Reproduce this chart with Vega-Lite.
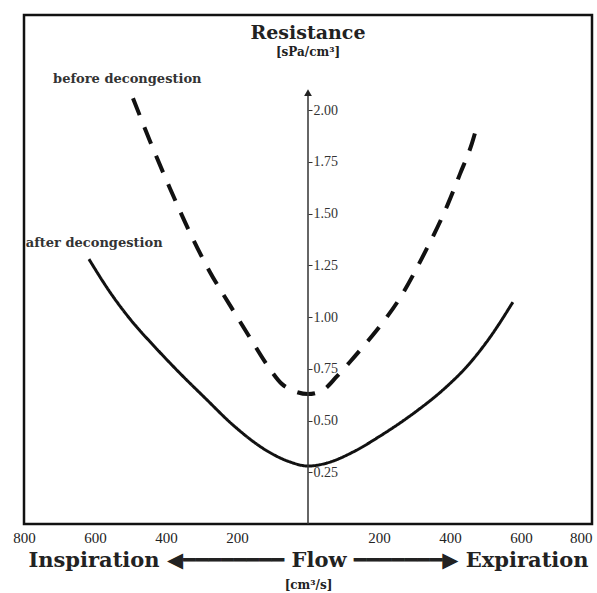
{
  "$schema": "https://vega.github.io/schema/vega-lite/v6.json",
  "width": 568,
  "height": 509,
  "autosize": {"type": "none"},
  "padding": {"left": 24, "top": 15, "right": 5, "bottom": 69},
  "background": "white",
  "view": {"stroke": "#111", "strokeWidth": 2.5},
  "title": {
    "text": "Resistance",
    "subtitle": "[sPa/cm³]",
    "anchor": "middle",
    "orient": "top",
    "offset": -43,
    "font": "DejaVu Serif",
    "fontSize": 19,
    "fontWeight": "bold",
    "color": "#222",
    "subtitleFont": "DejaVu Serif",
    "subtitleFontSize": 12,
    "subtitleFontWeight": "bold",
    "subtitleColor": "#222",
    "subtitlePadding": 4
  },
  "datasets": {
    "curves": [
      {"series": "before decongestion", "flow": -493, "res": 2.058},
      {"series": "before decongestion", "flow": -445, "res": 1.85},
      {"series": "before decongestion", "flow": -389, "res": 1.623},
      {"series": "before decongestion", "flow": -332, "res": 1.406},
      {"series": "before decongestion", "flow": -276, "res": 1.217},
      {"series": "before decongestion", "flow": -220, "res": 1.058},
      {"series": "before decongestion", "flow": -163, "res": 0.899},
      {"series": "before decongestion", "flow": -113, "res": 0.763},
      {"series": "before decongestion", "flow": -73, "res": 0.676},
      {"series": "before decongestion", "flow": -45, "res": 0.647},
      {"series": "before decongestion", "flow": 0, "res": 0.628},
      {"series": "before decongestion", "flow": 42, "res": 0.647},
      {"series": "before decongestion", "flow": 82, "res": 0.715},
      {"series": "before decongestion", "flow": 118, "res": 0.783},
      {"series": "before decongestion", "flow": 166, "res": 0.879},
      {"series": "before decongestion", "flow": 203, "res": 0.957},
      {"series": "before decongestion", "flow": 259, "res": 1.092},
      {"series": "before decongestion", "flow": 321, "res": 1.285},
      {"series": "before decongestion", "flow": 394, "res": 1.546},
      {"series": "before decongestion", "flow": 428, "res": 1.691},
      {"series": "before decongestion", "flow": 462, "res": 1.841},
      {"series": "before decongestion", "flow": 479, "res": 1.942},
      {"series": "after decongestion", "flow": -617, "res": 1.28},
      {"series": "after decongestion", "flow": -558, "res": 1.121},
      {"series": "after decongestion", "flow": -501, "res": 0.99},
      {"series": "after decongestion", "flow": -431, "res": 0.855},
      {"series": "after decongestion", "flow": -361, "res": 0.729},
      {"series": "after decongestion", "flow": -290, "res": 0.609},
      {"series": "after decongestion", "flow": -211, "res": 0.478},
      {"series": "after decongestion", "flow": -115, "res": 0.353},
      {"series": "after decongestion", "flow": -51, "res": 0.3},
      {"series": "after decongestion", "flow": 0, "res": 0.28},
      {"series": "after decongestion", "flow": 54, "res": 0.295},
      {"series": "after decongestion", "flow": 127, "res": 0.348},
      {"series": "after decongestion", "flow": 203, "res": 0.425},
      {"series": "after decongestion", "flow": 259, "res": 0.488},
      {"series": "after decongestion", "flow": 310, "res": 0.551},
      {"series": "after decongestion", "flow": 386, "res": 0.657},
      {"series": "after decongestion", "flow": 451, "res": 0.768},
      {"series": "after decongestion", "flow": 513, "res": 0.903},
      {"series": "after decongestion", "flow": 577, "res": 1.072}
    ],
    "labels": [
      {"series": "before decongestion", "flow": -718, "res": 2.15},
      {"series": "after decongestion", "flow": -795, "res": 1.357}
    ]
  },
  "layer": [
    {
      "data": {"name": "curves"},
      "mark": {"type": "line", "interpolate": "monotone", "stroke": "#111", "strokeCap": "butt"},
      "encoding": {
        "x": {
          "field": "flow",
          "type": "quantitative",
          "scale": {"domain": [-800, 800], "nice": false, "zero": false},
          "axis": {
            "values": [-800, -600, -400, -200, 200, 400, 600, 800],
            "labelExpr": "format(abs(datum.value), 'd')",
            "labelAlign": {"condition": {"test": "datum.value == 800", "value": "right"}, "value": "center"},
            "labelFont": "Liberation Serif",
            "labelFontSize": 15,
            "labelColor": "#222",
            "labelPadding": 6,
            "labelFlush": false,
            "labelOverlap": false,
            "ticks": false,
            "domain": false,
            "grid": false,
            "title": "Inspiration ◀━━━━━━━━ Flow ━━━━━━━▶ Expiration",
            "titleFont": "DejaVu Serif",
            "titleFontSize": 21,
            "titleFontWeight": "bold",
            "titleColor": "#222",
            "titlePadding": 4
          }
        },
        "y": {
          "field": "res",
          "type": "quantitative",
          "scale": {"domain": [0, 2.46], "nice": false},
          "axis": {
            "orient": "right",
            "offset": -284,
            "values": [0.25, 0.5, 0.75, 1.0, 1.25, 1.5, 1.75, 2.0],
            "format": ".2f",
            "labelFont": "Liberation Serif",
            "labelFontSize": 14,
            "labelColor": "#333",
            "labelPadding": 1,
            "tickSize": 4,
            "tickColor": "#333",
            "domain": false,
            "grid": false,
            "title": "[cm³/s]",
            "titleAngle": 0,
            "titleX": 0,
            "titleY": 569,
            "titleAlign": "center",
            "titleBaseline": "middle",
            "titleFont": "DejaVu Serif",
            "titleFontSize": 12,
            "titleFontWeight": "bold",
            "titleColor": "#222"
          }
        },
        "strokeDash": {
          "field": "series",
          "type": "nominal",
          "scale": {"domain": ["before decongestion", "after decongestion"], "range": [[18, 13], [1, 0]]},
          "legend": null
        },
        "strokeWidth": {
          "field": "series",
          "type": "nominal",
          "scale": {"domain": ["before decongestion", "after decongestion"], "range": [4, 3]},
          "legend": null
        },
        "order": {"field": "flow", "type": "quantitative"}
      }
    },
    {
      "data": {"values": [{}]},
      "mark": {"type": "rule", "stroke": "#333", "strokeWidth": 1.5},
      "encoding": {
        "x": {"datum": 0, "type": "quantitative"},
        "y": {"datum": 0, "type": "quantitative"},
        "y2": {"datum": 2.08}
      }
    },
    {
      "data": {"values": [{}]},
      "mark": {"type": "point", "shape": "triangle-up", "filled": true, "color": "#222", "size": 60, "opacity": 1},
      "encoding": {
        "x": {"datum": 0, "type": "quantitative"},
        "y": {"datum": 2.085, "type": "quantitative"}
      }
    },
    {
      "data": {"name": "labels"},
      "mark": {"type": "text", "align": "left", "baseline": "middle", "font": "DejaVu Serif", "fontSize": 13, "fontWeight": "bold", "color": "#333"},
      "encoding": {
        "x": {"field": "flow", "type": "quantitative"},
        "y": {"field": "res", "type": "quantitative"},
        "text": {"field": "series"}
      }
    }
  ]
}
